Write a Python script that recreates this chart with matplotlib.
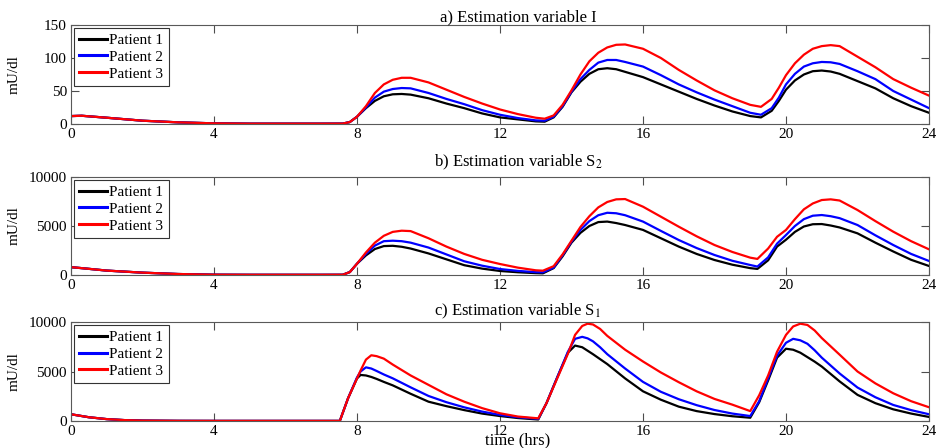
import matplotlib
matplotlib.use("Agg")
import matplotlib.pyplot as plt

plt.rcParams['font.family'] = ['Liberation Serif', 'DejaVu Serif']
plt.rcParams['mathtext.fontset'] = 'stix'

# ---- data ----
t_a = [0, 0.3, 1, 2, 3, 4, 5, 6, 7, 7.6, 7.8, 8, 8.25, 8.5, 8.75, 9, 9.25, 9.5, 10, 10.5,
       11, 11.5, 12, 12.5, 13, 13.25, 13.5, 13.75, 14, 14.25, 14.5, 14.75, 15, 15.25, 15.5,
       16, 16.5, 17, 17.5, 18, 18.5, 19, 19.3, 19.6, 19.8, 20, 20.25, 20.5, 20.75, 21, 21.25,
       21.5, 22, 22.5, 23, 23.5, 24]
I_p1 = [12, 12.5, 9.5, 5, 2.5, 1, 0.5, 0.5, 0.5, 0.6, 3, 11, 24, 35, 42, 45, 45.5, 44.5, 39, 31,
        24, 16, 10, 7, 4, 3.5, 10, 26, 48, 64, 76, 83, 84.5, 83, 79,
        71, 60, 49, 38, 28, 19, 12, 10, 20, 35, 52, 66, 75, 80, 81, 79.5,
        76, 65, 54, 39, 27, 17]
I_p2 = [12, 12.5, 9.5, 5, 2.5, 1, 0.5, 0.5, 0.5, 0.6, 3, 11, 25, 40, 49, 53, 54.5, 54, 47, 38,
        30, 21, 14, 9, 5.5, 5, 11, 27, 49, 68, 82, 93, 97, 97, 94,
        87, 74, 60, 48, 37, 27, 17, 14, 24, 40, 60, 76, 87, 92, 94, 93.5,
        91, 80, 68, 50, 37, 24]
I_p3 = [12, 12.5, 9.5, 5, 2.5, 1, 0.5, 0.5, 0.5, 0.6, 3, 11, 27, 47, 60, 67, 70, 70, 63, 52,
        41, 31, 22, 15, 9.5, 8, 13, 29, 51, 75, 95, 108, 116, 120, 120.5,
        114, 100, 82, 66, 51, 39, 29, 26, 38, 55, 74, 92, 105, 114, 118, 119.5,
        118, 102, 86, 68, 55, 43]

t_b = [0, 0.3, 1, 2, 3, 4, 5, 6, 7, 7.6, 7.8, 8, 8.25, 8.5, 8.75, 9, 9.25, 9.5, 10, 10.5,
       11, 11.5, 12, 12.5, 13, 13.2, 13.5, 13.75, 14, 14.25, 14.5, 14.75, 15, 15.25, 15.5,
       16, 16.5, 17, 17.5, 18, 18.5, 19, 19.2, 19.5, 19.75, 20, 20.25, 20.5, 20.75, 21, 21.25,
       21.5, 22, 22.5, 23, 23.5, 24]
S2_p1 = [800, 700, 450, 240, 100, 30, 20, 20, 20, 25, 300, 1150, 2000, 2650, 2950, 2980, 2880, 2700, 2200, 1600,
         1000, 650, 410, 280, 190, 170, 700, 1900, 3300, 4300, 5000, 5400, 5450, 5300, 5100,
         4600, 3750, 2900, 2150, 1530, 1050, 700, 620, 1500, 2900, 3600, 4400, 4950, 5180, 5200, 5050,
         4850, 4250, 3300, 2400, 1550, 920]
S2_p2 = [800, 700, 450, 240, 100, 30, 20, 20, 20, 25, 300, 1150, 2150, 3000, 3450, 3500, 3450, 3300, 2800, 2100,
         1400, 950, 610, 420, 290, 270, 750, 2000, 3400, 4600, 5500, 6100, 6350, 6300, 6100,
         5450, 4500, 3570, 2750, 2040, 1450, 1020, 860, 1800, 3200, 4080, 5000, 5700, 6050, 6120, 6000,
         5800, 5100, 4050, 3060, 2150, 1430]
S2_p3 = [800, 700, 450, 240, 100, 30, 20, 20, 20, 25, 300, 1150, 2300, 3300, 4000, 4400, 4520, 4480, 3750, 2900,
         2150, 1550, 1120, 750, 480, 440, 900, 2100, 3500, 4900, 6000, 6900, 7450, 7720, 7750,
         6970, 5950, 4930, 3950, 3060, 2350, 1770, 1640, 2700, 3900, 4600, 5700, 6700, 7300, 7650, 7720,
         7600, 6630, 5500, 4420, 3450, 2620]

t_c = [0, 0.5, 1, 1.5, 2, 3, 4, 5, 6, 7, 7.52, 7.75, 8, 8.1, 8.25, 8.4, 8.55, 8.75, 9, 9.5, 10,
       10.5, 11, 11.5, 12, 12.5, 13.07, 13.3, 13.6, 13.9, 14.1, 14.3, 14.45, 14.6, 14.8, 15, 15.5,
       16, 16.5, 17, 17.5, 18, 18.5, 19.0, 19.25, 19.5, 19.75, 20, 20.2, 20.4, 20.6, 20.8, 21, 21.5,
       22, 22.5, 23, 23.5, 24]
S1_p1 = [680, 380, 190, 90, 40, 15, 10, 10, 10, 10, 10, 2300, 4300, 4650, 4600, 4450, 4250, 3950, 3600, 2750, 1950,
         1500, 1100, 750, 500, 300, 150, 1800, 4400, 6900, 7620, 7450, 7100, 6750, 6250, 5750, 4300,
         3000, 2150, 1450, 1000, 700, 480, 330, 1900, 4100, 6400, 7300, 7200, 6900, 6450, 6000, 5500, 4000,
         2640, 1800, 1180, 750, 410]
S1_p2 = [680, 380, 190, 90, 40, 15, 10, 10, 10, 10, 10, 2300, 4400, 5000, 5420, 5300, 5050, 4700, 4310, 3400, 2530,
         1900, 1380, 950, 620, 380, 220, 1800, 4400, 7000, 8300, 8500, 8350, 8050, 7450, 6750, 5300,
         3950, 2950, 2200, 1600, 1110, 750, 500, 2000, 4300, 6600, 7900, 8300, 8150, 7800, 7150, 6400, 4800,
         3380, 2400, 1620, 1100, 680]
S1_p3 = [680, 380, 190, 90, 40, 15, 10, 10, 10, 10, 10, 2300, 4300, 5100, 6200, 6640, 6550, 6300, 5700, 4600, 3650,
         2700, 1950, 1300, 780, 450, 270, 1800, 4300, 6800, 8700, 9600, 9830, 9750, 9300, 8600, 7200,
         6010, 4900, 3920, 3000, 2230, 1650, 1000, 2600, 4600, 7000, 8700, 9550, 9830, 9700, 9150, 8380, 6700,
         5000, 3800, 2800, 2000, 1390]

patients = ["Patient 1", "Patient 2", "Patient 3"]
colors = ["black", "blue", "red"]
xticks = [0, 4, 8, 12, 16, 20, 24]


def panel(fig, rect, t, series, ylim, yticks, title, title_off):
    ax = fig.add_axes(rect)
    for y, c, lab in zip(series, colors, patients):
        ax.plot(t, y, color=c, lw=1.6, label=lab)
    ax.set_xlim(0, 24)
    ax.set_ylim(*ylim)
    ax.set_xticks(xticks)
    ax.set_yticks(yticks)
    ax.tick_params(direction='in', top=True, right=True, length=6, width=0.8,
                   labelsize=11, color='0.3', pad=3)
    for s in ax.spines.values():
        s.set_color('0.35')
        s.set_linewidth(0.8)
    ax.set_ylabel("mU/dl", fontsize=11)
    ax.yaxis.set_label_coords(-0.059, 0.5)
    ax.text(0.521, 1 + title_off, title, transform=ax.transAxes, ha='center',
            va='baseline', fontsize=12)
    leg = ax.legend(loc='upper left', bbox_to_anchor=(0, 1), borderaxespad=0.2,
                    fontsize=11, handlelength=1.8, handletextpad=0.15,
                    labelspacing=0.2, borderpad=0.35, fancybox=False, framealpha=1)
    leg.get_frame().set_edgecolor('0.2')
    leg.get_frame().set_linewidth(0.8)
    for h in leg.get_lines():
        h.set_linewidth(2.2)
    return ax


fig = plt.figure(figsize=(9.37, 4.48), dpi=100)
W, H = 937.0, 448.0
left = 71 / W
width = 858 / W

panel(fig, [left, 1 - 124 / H, width, 99 / H], t_a, [I_p1, I_p2, I_p3],
      (0, 150), [0, 50, 100, 150], "a) Estimation variable I", 4 / 99)
panel(fig, [left, 1 - 275 / H, width, 98 / H], t_b, [S2_p1, S2_p2, S2_p3],
      (0, 10000), [0, 5000, 10000], r"b) Estimation variable S$_2$", 11 / 98)
panel(fig, [left, 1 - 421 / H, width, 99 / H], t_c, [S1_p1, S1_p2, S1_p3],
      (0, 10000), [0, 5000, 10000], r"c) Estimation variable S$_1$", 7 / 99)

fig.text(518 / W, 1 - 440 / H, "time (hrs)", ha='center', va='center', fontsize=12)

fig.savefig("out.png", dpi=100)
